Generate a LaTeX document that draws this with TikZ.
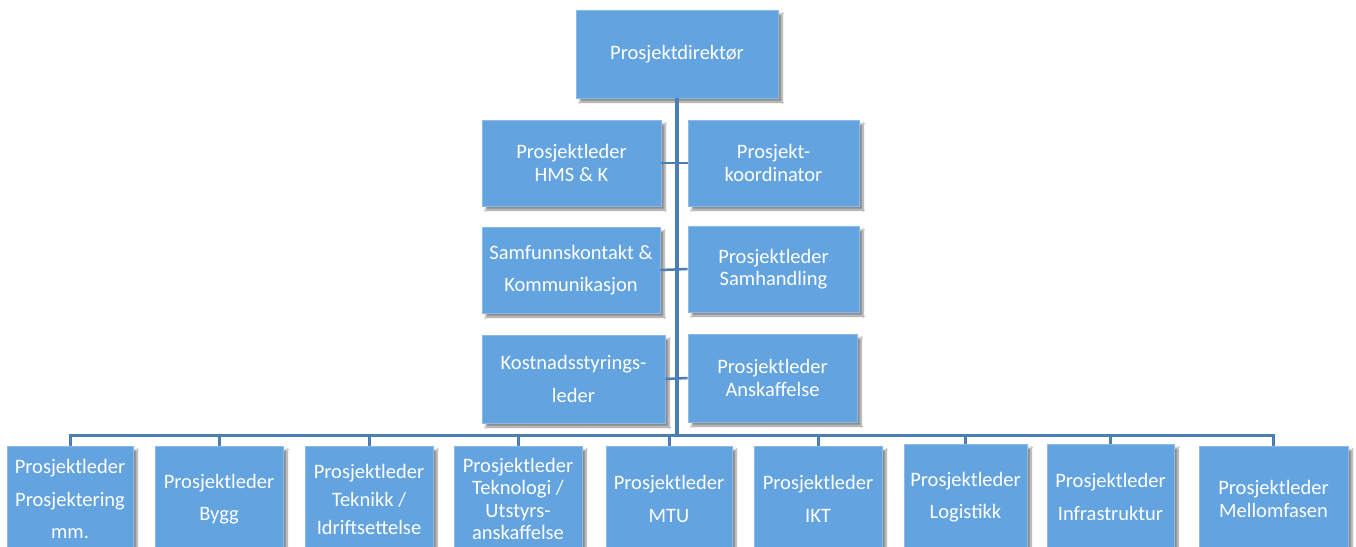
\documentclass[tikz,border=0pt]{standalone}
\usepackage{fontspec}
\setmainfont{Carlito}
\usetikzlibrary{shadows.blur}
\definecolor{boxblue}{HTML}{62A3E0}
\definecolor{linkblue}{HTML}{4A7EB5}
\tikzset{
  orgbox/.style={fill=boxblue, draw=boxblue!75!white, line width=0.8pt, text=white, align=center, inner sep=0pt,
    blur shadow={shadow xshift=4pt, shadow yshift=-4pt, shadow blur steps=6, shadow opacity=45}},
  tight/.style={font=\fontsize{20.5}{22.5}\selectfont},
  mid/.style={font=\fontsize{20.5}{28}\selectfont},
  loose/.style={font=\fontsize{20.5}{32.5}\selectfont},
  trunk/.style={draw=linkblue, line width=4.5pt},
  bus/.style={draw=linkblue, line width=3pt},
  tickline/.style={draw=linkblue, line width=2.5pt},
}
\begin{document}
\begin{tikzpicture}[x=1pt,y=-1pt]
\useasboundingbox (0,0) rectangle (1356,546);
\fill[white] (0,0) rectangle (1356,546);
\clip (0,0) rectangle (1356,546);
% top
\node[orgbox, tight, minimum width=202pt, minimum height=88pt] (pd) at (677,54) {Prosjektdirektør};
% middle
\node[orgbox, tight, minimum width=179pt, minimum height=86pt] (hms) at (571.5,163) {Prosjektleder\\HMS \& K};
\node[orgbox, tight, minimum width=171pt, minimum height=86pt] (koord) at (773.5,163) {Prosjekt-\\koordinator};
\node[orgbox, loose, minimum width=178pt, minimum height=86pt] (samf) at (571,270) {Samfunnskontakt \&\\Kommunikasjon};
\node[orgbox, tight, minimum width=171pt, minimum height=86pt] (samh) at (773.5,269) {Prosjektleder\\Samhandling};
\node[orgbox, loose, minimum width=183pt, minimum height=88pt] (kost) at (573.5,379) {Kostnadsstyrings-\\leder};
\node[orgbox, tight, minimum width=169pt, minimum height=88pt] (ansk) at (772.5,378) {Prosjektleder\\Anskaffelse};
% bottom row
\node[orgbox, loose, minimum width=126pt, minimum height=106pt] (b1) at (70,499) {Prosjektleder\\Prosjektering\\mm.};
\node[orgbox, loose, minimum width=128pt, minimum height=106pt] (b2) at (219,499) {Prosjektleder\\Bygg};
\node[orgbox, mid, minimum width=128pt, minimum height=106pt] (b3) at (369,499) {Prosjektleder\\Teknikk /\\Idriftsettelse};
\node[orgbox, tight, minimum width=128pt, minimum height=106pt] (b4) at (518,499) {Prosjektleder\\Teknologi /\\Utstyrs-\\anskaffelse};
\node[orgbox, loose, minimum width=126pt, minimum height=106pt] (b5) at (669,499) {Prosjektleder\\MTU};
\node[orgbox, loose, minimum width=128pt, minimum height=106pt] (b6) at (818,499) {Prosjektleder\\IKT};
\node[orgbox, loose, minimum width=123pt, minimum height=106pt] (b7) at (965.5,497) {Prosjektleder\\Logistikk};
\node[orgbox, loose, minimum width=127pt, minimum height=106pt] (b8) at (1110.5,497) {Prosjektleder\\Infrastruktur};
\node[orgbox, tight, minimum width=149pt, minimum height=106pt] (b9) at (1273.5,499) {Prosjektleder\\Mellomfasen};
% connectors
\coordinate (busy) at (0,435);
\draw[tickline] (hms.east) -- (koord.west);
\draw[tickline] (samf.east) -- (samh.west);
\draw[tickline] (kost.east) -- (ansk.west);
\foreach \b in {b1,b2,b3,b4,b5,b6,b7,b8,b9}
  \draw[bus] (pd.south |- busy) -| (\b.north);
\draw[trunk] (pd.south) -- (pd.south |- busy);
\end{tikzpicture}
\end{document}
